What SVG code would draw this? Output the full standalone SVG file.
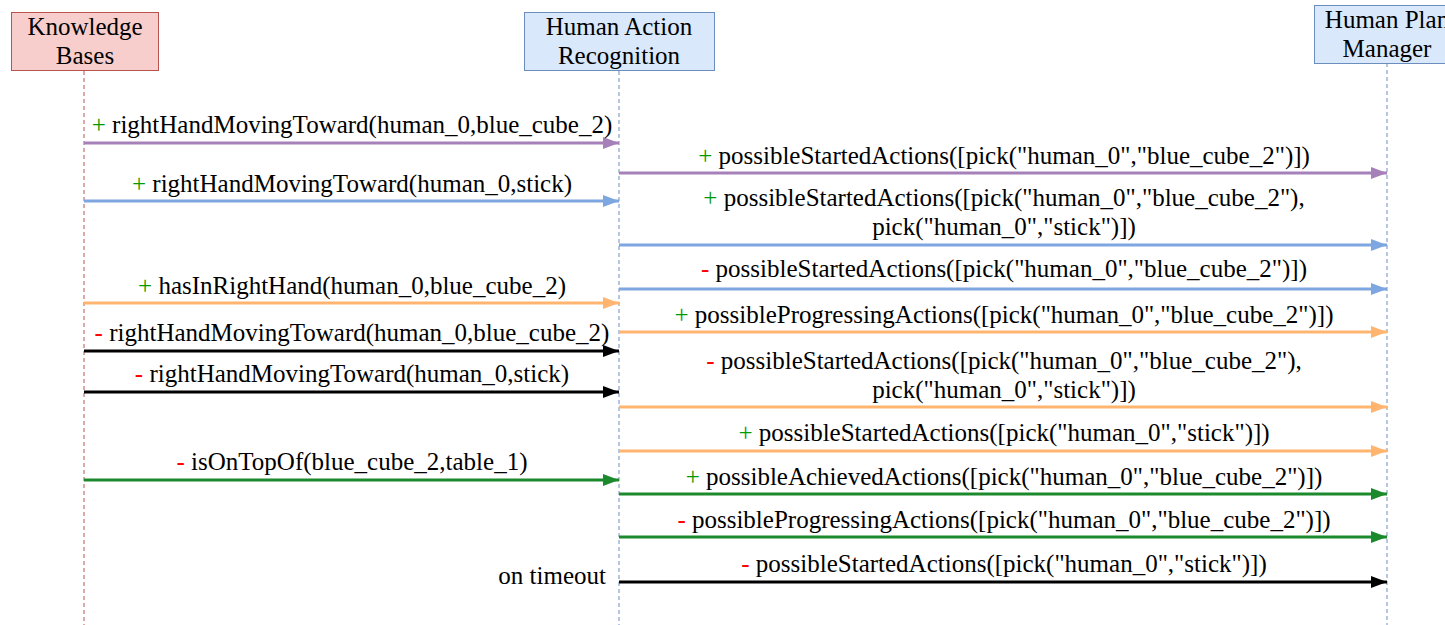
<svg xmlns="http://www.w3.org/2000/svg" width="1445" height="625" viewBox="0 0 1445 625">
<style>
text{font-family:"Liberation Serif","Times New Roman",serif;font-size:25px;fill:#000;text-anchor:middle}
.p{fill:#009900}
.m{fill:#ff0000}
.life{fill:none;stroke-width:1;stroke-dasharray:4 3}
.a{fill:none;stroke-width:3}
</style>
<defs>
<marker id="mPur" viewBox="0 0 16 12" refX="16" refY="6" markerWidth="16" markerHeight="12" markerUnits="userSpaceOnUse" orient="auto"><path d="M0,0 L16,6 L0,12 Z" fill="#A680B8"/></marker>
<marker id="mBlu" viewBox="0 0 16 12" refX="16" refY="6" markerWidth="16" markerHeight="12" markerUnits="userSpaceOnUse" orient="auto"><path d="M0,0 L16,6 L0,12 Z" fill="#7EA6E0"/></marker>
<marker id="mOra" viewBox="0 0 16 12" refX="16" refY="6" markerWidth="16" markerHeight="12" markerUnits="userSpaceOnUse" orient="auto"><path d="M0,0 L16,6 L0,12 Z" fill="#FFB570"/></marker>
<marker id="mBlk" viewBox="0 0 16 12" refX="16" refY="6" markerWidth="16" markerHeight="12" markerUnits="userSpaceOnUse" orient="auto"><path d="M0,0 L16,6 L0,12 Z" fill="#000"/></marker>
<marker id="mGrn" viewBox="0 0 16 12" refX="16" refY="6" markerWidth="16" markerHeight="12" markerUnits="userSpaceOnUse" orient="auto"><path d="M0,0 L16,6 L0,12 Z" fill="#1C8A2C"/></marker>
</defs>
<rect width="1445" height="625" fill="#fff"/>

<g id="knowledge-bases">
<line class="life" x1="84" y1="71" x2="84" y2="625" stroke="#b85450"/>
<rect x="11.5" y="12.5" width="147" height="58" fill="#f8cecc" stroke="#b85450"/>
<text x="85" y="35">Knowledge</text>
<text x="85" y="64">Bases</text>
</g>

<g id="human-action-recognition">
<line class="life" x1="619" y1="71" x2="619" y2="625" stroke="#6c8ebf"/>
<rect x="524.5" y="12.5" width="190" height="58" fill="#dae8fc" stroke="#6c8ebf"/>
<text x="619" y="35">Human Action</text>
<text x="619" y="64">Recognition</text>
</g>

<g id="human-plan-manager">
<line class="life" x1="1387" y1="63" x2="1387" y2="625" stroke="#6c8ebf"/>
<rect x="1314.5" y="5.5" width="146" height="58" fill="#dae8fc" stroke="#6c8ebf"/>
<text x="1387" y="28">Human Plan</text>
<text x="1387" y="57">Manager</text>
</g>

<g id="connectors">
<line class="a" x1="84" y1="143" x2="619" y2="143" stroke="#A680B8" marker-end="url(#mPur)"/>
<line class="a" x1="84" y1="201" x2="619" y2="201" stroke="#7EA6E0" marker-end="url(#mBlu)"/>
<line class="a" x1="84" y1="303" x2="619" y2="303" stroke="#FFB570" marker-end="url(#mOra)"/>
<line class="a" x1="84" y1="351" x2="619" y2="351" stroke="#000" marker-end="url(#mBlk)"/>
<line class="a" x1="84" y1="392" x2="619" y2="392" stroke="#000" marker-end="url(#mBlk)"/>
<line class="a" x1="84" y1="480" x2="619" y2="480" stroke="#1C8A2C" marker-end="url(#mGrn)"/>

<line class="a" x1="619" y1="173" x2="1387" y2="173" stroke="#A680B8" marker-end="url(#mPur)"/>
<line class="a" x1="619" y1="245" x2="1387" y2="245" stroke="#7EA6E0" marker-end="url(#mBlu)"/>
<line class="a" x1="619" y1="289" x2="1387" y2="289" stroke="#7EA6E0" marker-end="url(#mBlu)"/>
<line class="a" x1="619" y1="332" x2="1387" y2="332" stroke="#FFB570" marker-end="url(#mOra)"/>
<line class="a" x1="619" y1="407" x2="1387" y2="407" stroke="#FFB570" marker-end="url(#mOra)"/>
<line class="a" x1="619" y1="451" x2="1387" y2="451" stroke="#FFB570" marker-end="url(#mOra)"/>
<line class="a" x1="619" y1="494" x2="1387" y2="494" stroke="#1C8A2C" marker-end="url(#mGrn)"/>
<line class="a" x1="619" y1="537" x2="1387" y2="537" stroke="#1C8A2C" marker-end="url(#mGrn)"/>
<line class="a" x1="619" y1="582" x2="1387" y2="582" stroke="#000" marker-end="url(#mBlk)"/>
</g>

<g id="labels">
<text x="352" y="133"><tspan class="p">+</tspan> rightHandMovingToward(human_0,blue_cube_2)</text>
<text x="352" y="192"><tspan class="p">+</tspan> rightHandMovingToward(human_0,stick)</text>
<text x="352" y="294"><tspan class="p">+</tspan> hasInRightHand(human_0,blue_cube_2)</text>
<text x="352" y="341"><tspan class="m">-</tspan> rightHandMovingToward(human_0,blue_cube_2)</text>
<text x="352" y="382"><tspan class="m">-</tspan> rightHandMovingToward(human_0,stick)</text>
<text x="352" y="470"><tspan class="m">-</tspan> isOnTopOf(blue_cube_2,table_1)</text>
<text x="606" y="584" style="text-anchor:end">on timeout</text>

<text x="1004" y="164"><tspan class="p">+</tspan> possibleStartedActions([pick("human_0","blue_cube_2")])</text>
<text x="1004" y="206"><tspan class="p">+</tspan> possibleStartedActions([pick("human_0","blue_cube_2"),</text>
<text x="1004" y="235">pick("human_0","stick")])</text>
<text x="1004" y="277"><tspan class="m">-</tspan> possibleStartedActions([pick("human_0","blue_cube_2")])</text>
<text x="1004" y="323"><tspan class="p">+</tspan> possibleProgressingActions([pick("human_0","blue_cube_2")])</text>
<text x="1004" y="369"><tspan class="m">-</tspan> possibleStartedActions([pick("human_0","blue_cube_2"),</text>
<text x="1004" y="398">pick("human_0","stick")])</text>
<text x="1004" y="441"><tspan class="p">+</tspan> possibleStartedActions([pick("human_0","stick")])</text>
<text x="1004" y="485"><tspan class="p">+</tspan> possibleAchievedActions([pick("human_0","blue_cube_2")])</text>
<text x="1004" y="528"><tspan class="m">-</tspan> possibleProgressingActions([pick("human_0","blue_cube_2")])</text>
<text x="1004" y="572"><tspan class="m">-</tspan> possibleStartedActions([pick("human_0","stick")])</text>
</g>
</svg>
